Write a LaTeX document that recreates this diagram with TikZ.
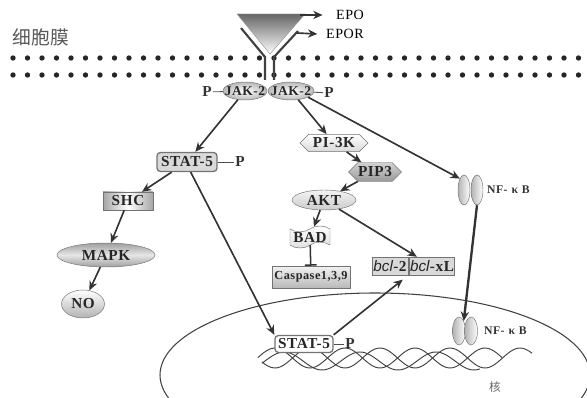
\documentclass[tikz,border=0pt]{standalone}
\usepackage{fontspec}
\setmainfont[LetterSpace=4]{Liberation Serif}
\setsansfont{Liberation Sans}
\newfontfamily\cjk{Noto Sans CJK SC}
\usepackage{tikz}
\usetikzlibrary{shapes,arrows.meta,calc}

\begin{document}
\begin{tikzpicture}[
    x=0.03cm, y=-0.03cm,
    font=\fontsize{13}{15}\selectfont\bfseries,
    arrow/.style={-{Stealth[length=8pt,width=7pt]}, line width=1.4pt, draw=black!80},
    link/.style={draw=black!70, line width=0.7pt},
    mol/.style={draw=black!55, inner sep=0pt, text=black!85},
    jak/.style={mol, ellipse, inner xsep=-6pt, inner ysep=-3pt, font=\fontsize{11.5}{13}\selectfont\bfseries,
        minimum width=1.32cm, minimum height=0.54cm, inner color=white, outer color=gray!55},
    statbox/.style={mol, rectangle, rounded corners=3pt, line width=1.1pt, minimum height=0.57cm},
    hexa/.style={mol, signal, signal to=west and east, minimum height=0.52cm},
    nfk/.style={mol, ellipse, minimum width=0.36cm, minimum height=0.9cm, left color=gray!60, right color=white},
    bcl/.style={mol, rectangle, fill=gray!30, minimum height=0.54cm},
    tag/.style={font=\fontsize{13}{15}\selectfont\bfseries, text=black!80, inner sep=1pt},
    nflabel/.style={font=\fontsize{10}{12}\selectfont\bfseries, anchor=west, text=black!80},
    receptor/.style={line width=1.8pt, draw=black!75},
    dna/.style={draw=black!75, line width=0.8pt}
]
\clip (0,0) rectangle (587,398);

% membrane
\node[font=\cjk\fontsize{16}{18}\selectfont, text=black!65] (membrane) at (41,37) {细胞膜};
\foreach \i in {0,...,39} {
    \fill[black!85] (13+\i*14.5,58) circle (2.3pt);
    \fill[black!85] (13+\i*14.5,75) circle (2.3pt);
}

% EPO and its receptor
\shade[top color=black!60, bottom color=white, draw=black!40] (237,14) -- (305,14) -- (270,54) -- cycle;
\draw[receptor] (241,28) -- (265,57) -- (265,80);
\draw[receptor] (298,31) -- (274,57) -- (274,80);
\coordinate (lig) at (300,15);
\coordinate (rec) at (297,33);
\node[font=\fontsize{12}{14}\selectfont, anchor=west] (epo) at (332,15) {EPO};
\node[font=\fontsize{12}{14}\selectfont, anchor=west] (epor) at (322,34) {EPOR};
\draw[arrow] (lig) -- ([xshift=-8pt]epo.west);
\draw[arrow] (rec) -- ([xshift=-4pt]epor.west);

% JAK-2 pair
\node[jak] (jakl) at (245,91) {JAK-2};
\node[jak, minimum width=1.38cm] (jakr) at (291,91) {JAK-2};
\node[tag] (pl) at (207,92) {P};
\node[tag] (pr) at (329,93) {P};
\draw[link] (pl) -- (jakl);
\draw[link] (jakr) -- (pr);

% STAT-5 branch
\node[statbox, fill=gray!30, minimum width=1.8cm] (stat) at (187,162) {STAT-5};
\node[tag] (sp) at (240,162) {P};
\draw[link] (stat) -- (sp);
\node[mol, rectangle, left color=gray!70, right color=gray!70, middle color=white, minimum width=1.5cm, minimum height=0.54cm] (shc) at (128,201) {SHC};
\node[mol, ellipse, top color=gray!75, bottom color=gray!75, middle color=gray!20, minimum width=2.94cm, minimum height=0.72cm] (mapk) at (106,255) {MAPK};
\node[mol, ellipse, top color=white, bottom color=gray!60, minimum width=1.29cm, minimum height=0.84cm] (no) at (83,304) {NO};

% PI-3K branch
\node[hexa, top color=white, bottom color=gray!30, minimum width=2.04cm] (pi3k) at (334,143) {PI-3K};
\node[hexa, top color=gray!35, bottom color=gray!80, minimum width=1.32cm, minimum height=0.57cm] (pip3) at (375,172) {PIP3};
\node[mol, ellipse, top color=gray!10, bottom color=gray!40, minimum width=1.92cm, minimum height=0.6cm] (akt) at (324,200) {AKT};
\node[mol, tape, top color=white, bottom color=gray!25, minimum width=1.2cm, minimum height=0.66cm] (bad) at (310,237) {BAD};
\node[mol, rectangle, top color=gray!10, bottom color=gray!55, minimum width=2.34cm, minimum height=0.66cm, font=\fontsize{10.5}{12}\selectfont\bfseries] (casp) at (311,277) {Caspase1,3,9};
\node[bcl, minimum width=1.08cm] (bcl2) at (390,266) {\textsf{\mdseries\itshape bcl}-2};
\node[bcl, minimum width=1.35cm] (bclx) at (432,266) {\textsf{\mdseries\itshape bcl}-xL};

% NF-kB
\node[nfk] (nfa) at (464,190) {};
\node[nfk] (nfb) at (477,190) {};
\node[nflabel] (nflab) at (483,190) {NF-\,\,κ\,\,B};

% nucleus
\draw[draw=black!75, line width=0.9pt] (375,375) ellipse [x radius=215, y radius=82];
\draw[dna] plot[domain=258:502, samples=90, smooth] (\x,{358+10*cos((\x-310)/70*360)});
\draw[dna] plot[domain=262:532, samples=90, smooth] (\x,{358-10*cos((\x-310)/70*360)});
\draw[dna] plot[domain=262:480, samples=90, smooth] (\x,{361+9*cos((\x-322)/76*360)});
\node[statbox, fill=white, minimum width=1.74cm, minimum height=0.51cm] (nstat) at (304,344) {STAT-5};
\node[tag] (nsp) at (350,344) {P};
\draw[link] (nstat) -- (nsp);
\node[nfk, minimum width=0.39cm, minimum height=0.84cm] (nfc) at (459,331) {};
\node[nfk, minimum width=0.39cm, minimum height=0.84cm] (nfd) at (471,331) {};
\node[nflabel] (nflab2) at (480,331) {NF-\,\,κ\,\,B};
\node[font=\cjk\fontsize{10}{12}\selectfont, text=black!60] (nucleus) at (495,387) {核};

% signalling arrows
\draw[arrow] (jakl) -- (stat);
\draw[arrow] (jakr) -- (pi3k);
\draw[arrow] (jakr.340) -- (nfa.110);
\draw[arrow] (stat) -- (shc);
\draw[arrow] (shc) -- (mapk);
\draw[arrow] (mapk) -- (no);
\draw[arrow] (stat.-70) -- (nstat.north west);
\draw[arrow] (pi3k) -- (pip3);
\draw[arrow] (pip3) -- (akt);
\draw[arrow] (akt) -- (bclx);
\draw[arrow] (akt) -- (bad);
\draw[line width=1.3pt, draw=black!80, -{Bar[width=10pt]}] (bad) -- (casp);
\draw[arrow, shorten >=6pt] (nstat.north east) -- (bcl2.south east);
\draw[arrow, line width=2pt] (nfb.south) -- (nfc.north east);

\end{tikzpicture}
\end{document}
